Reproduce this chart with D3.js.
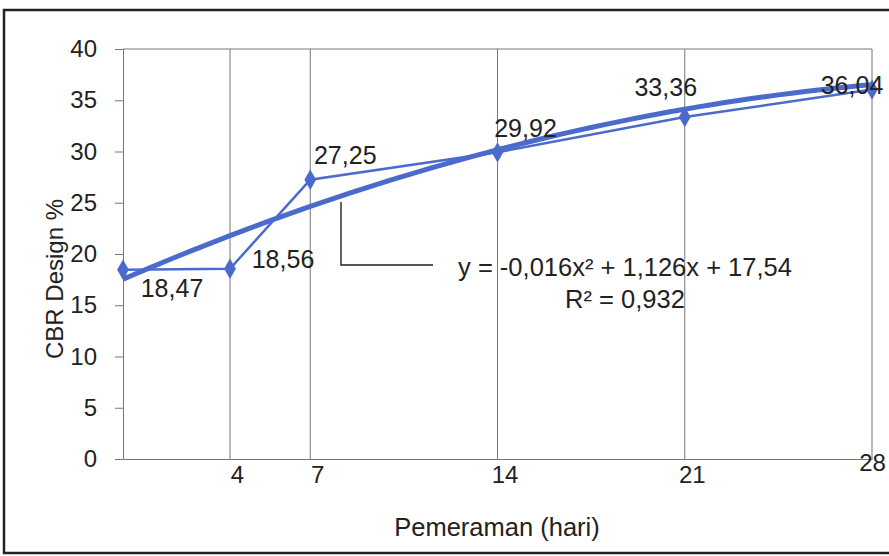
<!DOCTYPE html>
<html>
<head>
<meta charset="utf-8">
<script src="https://cdn.jsdelivr.net/npm/d3@7"></script>
<style>
  body { margin: 0; background: #fff; }
  svg { font-family: "Liberation Sans", Arial, sans-serif; }
</style>
</head>
<body>
<div id="chart"></div>
<script>
// chart data
const days = [0, 4, 7, 14, 21, 28];
const cbr = [18.47, 18.56, 27.25, 29.92, 33.36, 36.04];
const labels = ['18,47', '18,56', '27,25', '29,92', '33,36', '36,04'];
const xTicks = [4, 7, 14, 21, 28];
const yTicks = [0, 5, 10, 15, 20, 25, 30, 35, 40];
// polynomial trendline, shown on the chart: y = c0 + c1 x + c2 x^2
const trendCoef = [17.54, 1.126, -0.016];
const trendText = ['y = -0,016x\u00B2 + 1,126x + 17,54', 'R\u00B2 = 0,932'];

const width = 889, height = 556;
const blue = '#4a6bcb';
const fs = 24;

const svg = d3.select('#chart').append('svg')
    .attr('width', width)
    .attr('height', height);

// outer frame
svg.append('rect')
    .attr('x', 4).attr('y', 10)
    .attr('width', 900).attr('height', 543)
    .attr('fill', 'none')
    .attr('stroke', '#222')
    .attr('stroke-width', 2.5);

const x = d3.scaleLinear().domain([0, 28]).range([123, 872]);
const y = d3.scaleLinear().domain([0, 40]).range([459, 49]);

// vertical gridlines
svg.append('g').selectAll('line')
    .data(xTicks)
    .enter().append('line')
    .attr('x1', d => x(d)).attr('x2', d => x(d))
    .attr('y1', y(0)).attr('y2', y(40))
    .attr('stroke', '#777').attr('stroke-width', 1);

// top line at 40
svg.append('line')
    .attr('x1', x(0)).attr('x2', x(28))
    .attr('y1', y(40)).attr('y2', y(40))
    .attr('stroke', '#777');

// y axis
const yAxis = svg.append('g')
    .attr('transform', `translate(${x(0)},0)`)
    .call(d3.axisLeft(y).tickValues(yTicks).tickSize(8).tickPadding(18));
yAxis.select('.domain').attr('stroke', '#777');
yAxis.selectAll('.tick line').attr('stroke', '#777');
yAxis.selectAll('text').attr('font-size', fs).attr('fill', '#222')
    .attr('font-family', '"Liberation Sans", Arial, sans-serif');

// x axis
const xAxis = svg.append('g')
    .attr('transform', `translate(0,${y(0)})`)
    .call(d3.axisBottom(x).tickValues(xTicks).tickSize(0).tickPadding(7));
xAxis.select('.domain').attr('stroke', '#777');
xAxis.selectAll('text').attr('font-size', fs).attr('fill', '#222')
    .attr('font-family', '"Liberation Sans", Arial, sans-serif')
    .attr('dx', d => d === 28 ? 0 : 7)
    .attr('dy', d => d === 28 ? '5px' : '17px');

// axis titles
svg.append('text')
    .attr('x', 497).attr('y', 536)
    .attr('text-anchor', 'middle')
    .attr('font-size', 25.5).attr('fill', '#222')
    .text('Pemeraman (hari)');

svg.append('text')
    .attr('transform', 'translate(63,279) rotate(-90)')
    .attr('text-anchor', 'middle')
    .attr('font-size', fs).attr('fill', '#222')
    .text('CBR Design %');

// trendline sampled from the displayed polynomial
const trendX = d3.range(0, 28.01, 0.5);
const trendPts = trendX.map(t => [t, trendCoef[0] + trendCoef[1] * t + trendCoef[2] * t * t]);
svg.append('path')
    .datum(trendPts)
    .attr('d', d3.line().x(d => x(d[0])).y(d => y(d[1])).curve(d3.curveMonotoneX))
    .attr('fill', 'none')
    .attr('stroke', blue)
    .attr('stroke-width', 5);

// data series
const pts = days.map((d, i) => [d, cbr[i]]);
svg.append('path')
    .datum(pts)
    .attr('d', d3.line().x(d => x(d[0])).y(d => y(d[1])))
    .attr('fill', 'none')
    .attr('stroke', blue)
    .attr('stroke-width', 2.5);

svg.append('g').selectAll('path')
    .data(pts)
    .enter().append('path')
    .attr('d', d3.symbol().type(d3.symbolDiamond).size(120))
    .attr('transform', d => `translate(${x(d[0])},${y(d[1])})`)
    .attr('fill', blue);

// data labels
const labelOffsets = [[49, 27], [53, -1], [35, -16], [28, -15], [-19, -21], [-20, 4]];
svg.append('g').selectAll('text')
    .data(pts)
    .enter().append('text')
    .attr('x', (d, i) => x(d[0]) + labelOffsets[i][0])
    .attr('y', (d, i) => y(d[1]) + labelOffsets[i][1])
    .attr('text-anchor', 'middle')
    .attr('font-size', 25).attr('fill', '#222')
    .text((d, i) => labels[i]);

// trendline label with leader line
svg.append('path')
    .attr('d', 'M341,202 V265 H433')
    .attr('fill', 'none')
    .attr('stroke', '#222')
    .attr('stroke-width', 1.4);

svg.append('g').selectAll('text')
    .data(trendText)
    .enter().append('text')
    .attr('x', 625)
    .attr('y', (d, i) => 276 + i * 32)
    .attr('text-anchor', 'middle')
    .attr('font-size', 25.5).attr('fill', '#222')
    .text(d => d);
</script>
</body>
</html>
